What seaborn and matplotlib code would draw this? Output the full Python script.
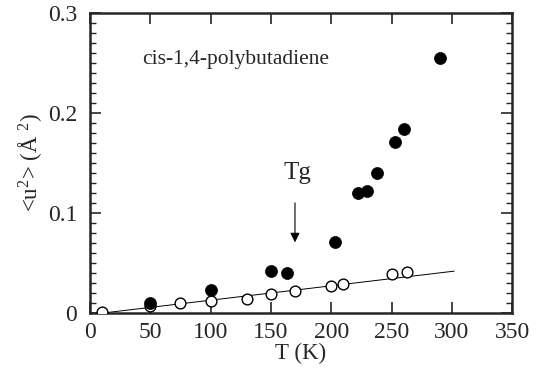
import matplotlib as mpl
import matplotlib.pyplot as plt
import pandas as pd
import seaborn as sns

# filled circles (above Tg the data rise sharply)
filled_t = [50, 100, 150, 163, 203, 222, 230, 238, 253, 260, 290]
filled_u = [0.010, 0.023, 0.042, 0.040, 0.071, 0.120, 0.122, 0.140, 0.171, 0.184, 0.255]

# open circles
open_t = [10, 50, 75, 100, 130, 150, 170, 200, 210, 250, 263]
open_u = [0.0007, 0.007, 0.0097, 0.012, 0.014, 0.0195, 0.022, 0.027, 0.029, 0.039, 0.041]

# straight fit line through the open circles
line_t = [10, 302]
line_u = [0.0, 0.042]

sns.set_style("ticks")
plt.rcParams["font.family"] = ["Liberation Serif", "DejaVu Serif"]
plt.rcParams["mathtext.fontset"] = "custom"
plt.rcParams["mathtext.rm"] = "Liberation Serif"
plt.rcParams["mathtext.it"] = "Liberation Serif:italic"

fig = plt.figure(figsize=(5.38, 3.68), dpi=100)
ax = fig.add_axes([0.167, 0.149, 0.785, 0.816])

df_line = pd.DataFrame({"T": line_t, "u2": line_u})
sns.lineplot(data=df_line, x="T", y="u2", ax=ax, color="black", linewidth=0.7)

df_open = pd.DataFrame({"T": open_t, "u2": open_u})
sns.scatterplot(data=df_open, x="T", y="u2", ax=ax, s=60, facecolor="white",
                edgecolor="black", linewidth=1.0, zorder=3)

df_filled = pd.DataFrame({"T": filled_t, "u2": filled_u})
sns.scatterplot(data=df_filled, x="T", y="u2", ax=ax, s=75, color="black",
                edgecolor="black", linewidth=0.5, zorder=4)

ax.set_xlim(0, 350)
ax.set_ylim(0, 0.3)
ax.set_xticks(range(0, 351, 50))
ax.set_yticks([0, 0.1, 0.2, 0.3])
ax.set_yticklabels(["0", "0.1", "0.2", "0.3"])
ax.yaxis.set_minor_locator(mpl.ticker.MultipleLocator(0.01))

ax.tick_params(axis="both", which="major", direction="in", length=8, width=1.2,
               top=True, right=True, labelsize=17)
ax.tick_params(axis="y", which="major", pad=9)
ax.tick_params(axis="x", which="major", pad=6)
ax.tick_params(axis="y", which="minor", direction="in", length=4, width=1.0,
               left=True, right=True)
for sp in ax.spines.values():
    sp.set_linewidth(1.8)
    sp.set_visible(True)

ax.set_xlabel("T (K)", fontsize=16.5, labelpad=0)
ax.set_ylabel("<u$^2$> (Å $^2$)", fontsize=16.5, labelpad=3)

ax.text(43, 0.253, "cis-1,4-polybutadiene", fontsize=15.5, va="center", ha="left")
ax.text(172, 0.140, "Tg", fontsize=18, va="center", ha="center")
ax.annotate("", xy=(170, 0.068), xytext=(170, 0.113),
            arrowprops=dict(arrowstyle="-|>", color="black", lw=0.8,
                            mutation_scale=14))

fig.savefig("out.png", dpi=100)
